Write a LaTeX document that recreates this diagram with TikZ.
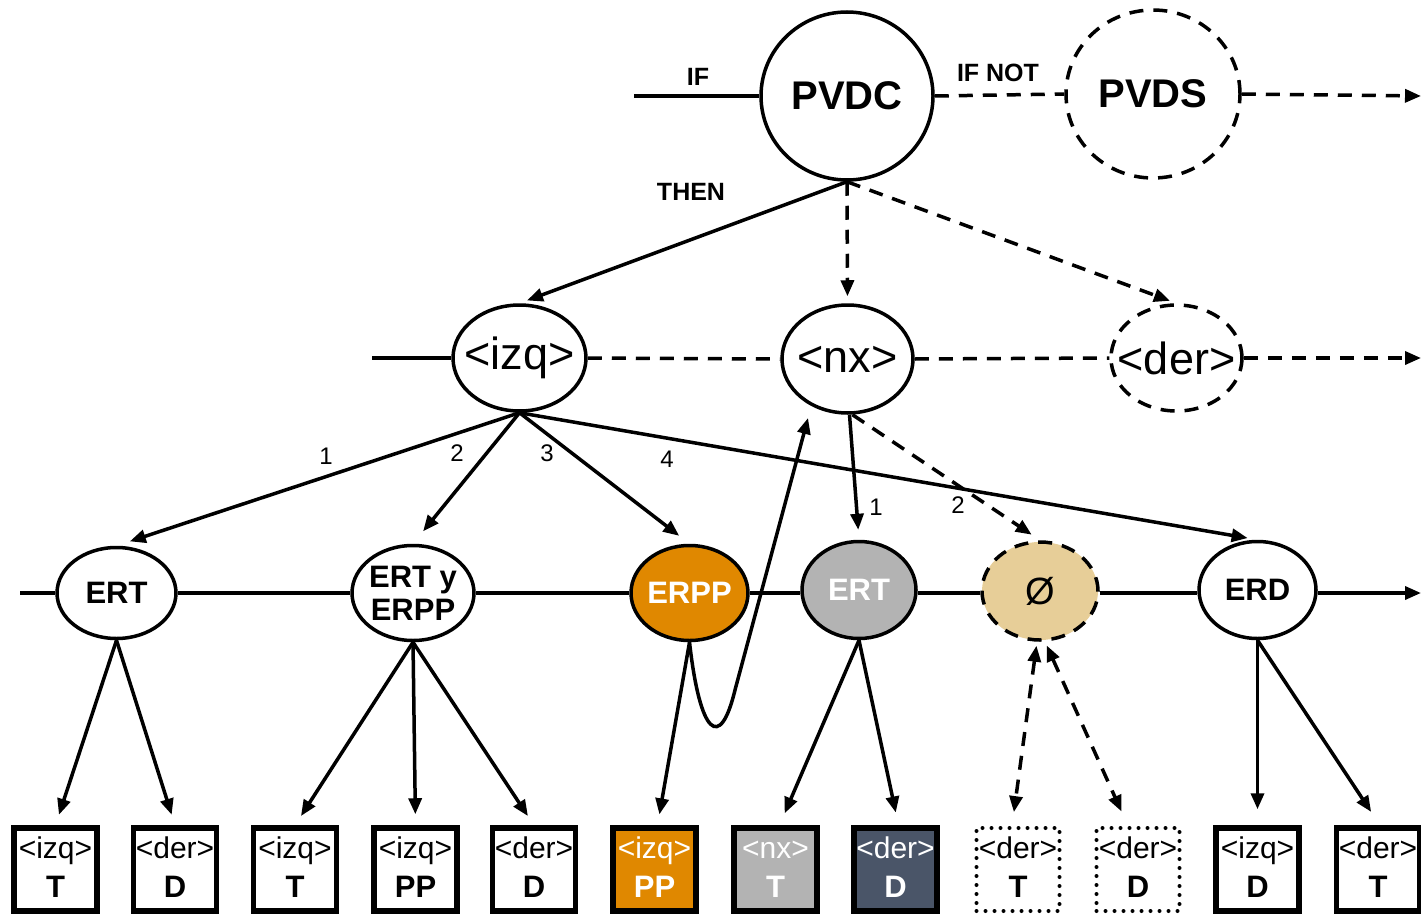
\documentclass[tikz,border=0pt]{standalone}
\usepackage{fontspec}
\setmainfont{Liberation Sans}
\usetikzlibrary{arrows.meta,shapes.geometric,calc}

\definecolor{ambar}{RGB}{224,136,0}
\definecolor{gris}{RGB}{179,179,179}
\definecolor{pizarra}{RGB}{74,85,104}
\definecolor{arena}{RGB}{231,206,152}

\begin{document}
\begin{tikzpicture}[x=1pt,y=-1pt,
  conn/.style={line width=3.5pt},
  arr/.style={conn,-{Triangle[length=16pt,width=13pt]}},
  dbl/.style={conn,{Triangle[length=16pt,width=13pt]}-{Triangle[length=16pt,width=13pt]}},
  dsh/.style={dash pattern=on 14pt off 10pt},
  % the ellipse size is set by minimum width/height only
  ell/.style={ellipse,draw,line width=3.5pt,inner sep=-60pt,fill=white},
  bigtxt/.style={font=\fontsize{40}{40}\selectfont\bfseries},
  midtxt/.style={font=\fontsize{45}{45}\selectfont},
  rowtxt/.style={font=\fontsize{31}{33}\selectfont\bfseries,align=center},
  lab/.style={font=\fontsize{25}{25}\selectfont\bfseries},
  num/.style={font=\fontsize{24}{24}\selectfont},
  tagtxt/.style={font=\fontsize{30}{30}\selectfont,anchor=base,inner sep=0pt},
  lettxt/.style={font=\fontsize{31}{31}\selectfont\bfseries,anchor=base,inner sep=0pt},
  plainbox/.style={draw,line width=5.5pt,fill=white,inner sep=0pt,minimum width=83pt,minimum height=83pt},
  orangebox/.style={plainbox,fill=ambar},
  greybox/.style={plainbox,fill=gris},
  slatebox/.style={plainbox,fill=pizarra},
  dotbox/.style={plainbox,line width=4pt,line cap=round,dash pattern=on 0pt off 9pt}
]
\useasboundingbox (0,0) rectangle (1421,915);

% top level: the rule and its alternative
\node[ell,minimum width=172pt,minimum height=168pt,bigtxt] (pvdc) at (847,96) {PVDC};
\node[ell,dsh,minimum width=174pt,minimum height=168pt,bigtxt] (pvds) at (1153,94) {PVDS};
\coordinate (inA) at (634,96);
\coordinate (outA) at (1421,96);
\draw[conn] (inA) -- (pvdc.west);
\draw[conn,dsh] (pvdc.east) -- (pvds.west);
\draw[arr,dsh] (pvds.east) -- (outA);
\node[lab] (tif) at (698,77) {IF};
\node[lab] (tifnot) at (998,73) {IF NOT};
\node[lab] (tthen) at (691,192) {THEN};

% second level: left, nucleus, right
\node[ell,minimum width=133pt,minimum height=106pt,midtxt] (izq) at (519.5,358) {<izq>};
\node[ell,minimum width=131pt,minimum height=108pt,midtxt] (nx) at (847.5,359) {<nx>};
\node[ell,dsh,minimum width=131pt,minimum height=106pt,midtxt] (der) at (1176.5,358) {<der>};
\coordinate (inB) at (372,358);
\coordinate (outB) at (1421,358);
\draw[conn] (inB) -- (izq.west);
\draw[conn,dsh] (izq.east) -- (nx.west);
\draw[conn,dsh] (nx.east) -- (der.west);
\draw[arr,dsh] (der.east) -- (outB);

\draw[arr,shorten >=8pt] (pvdc.south) -- (izq.north);
\draw[arr,dsh,shorten >=7pt] (pvdc.south) -- (nx.north);
\draw[arr,dsh,shorten >=7pt] (pvdc.south) -- (der.north);

% third level: relations
\node[ell,minimum width=119pt,minimum height=91pt,rowtxt] (ert1) at (116.5,593) {ERT};
\node[ell,minimum width=122pt,minimum height=95pt,rowtxt] (erty) at (413,593) {ERT y\\ERPP};
\node[ell,fill=ambar,text=white,minimum width=117pt,minimum height=95pt,rowtxt] (erpp) at (689.5,593) {ERPP};
\node[ell,fill=gris,text=white,minimum width=114pt,minimum height=97pt,rowtxt] (ertg) at (859,590) {ERT};
\node[ell,dsh,fill=arena,minimum width=116pt,minimum height=98pt,font=\fontsize{38}{38}\selectfont] (nul) at (1040,591) {Ø};
\node[ell,minimum width=117pt,minimum height=97pt,rowtxt] (erd) at (1257.5,590) {ERD};
\coordinate (inC) at (20,593);
\coordinate (outC) at (1421,593);
\draw[conn] (inC) -- (ert1.west);
\draw[conn] (ert1.east) -- (erty.west);
\draw[conn] (erty.east) -- (erpp.west);
\draw[conn] (erpp.east) -- (ertg.west |- erpp.east);
\draw[conn] (ertg.east |- erpp.east) -- (nul.west |- erpp.east);
\draw[conn] (nul.east |- erpp.east) -- (erd.west |- erpp.east);
\draw[arr] (erd.east |- erpp.east) -- (outC);

\draw[arr,shorten >=14pt] (izq.south) -- (ert1.north);
\draw[arr,shorten >=16pt] (izq.south) -- (erty.north);
\draw[arr,shorten >=13pt] (izq.south) -- (erpp.north);
\draw[arr,shorten >=10pt] (izq.south) -- (erd.north);
\draw[arr,shorten >=10pt] ([xshift=2pt]nx.south) -- (ertg.north);
\draw[arr,dsh,shorten >=10pt] ([xshift=5pt]nx.south) -- (nul.north);
\node[num] (n1) at (326,456) {1};
\node[num] (n2) at (457,453) {2};
\node[num] (n3) at (547,453) {3};
\node[num] (n4) at (667,459) {4};
\node[num] (m1) at (876,507) {1};
\node[num] (m2) at (958,505) {2};

% loop from ERPP back up to the nucleus
\coordinate (loopend) at (808,418);
\draw[arr] (erpp.south) .. controls (700,735) and (720,752) .. (735,690) -- (loopend);

% bottom level: word boxes
\foreach \n/\x/\st/\tc/\tg/\lt in {
  b1/55.5/plainbox/black/<izq>/T,
  b2/175/plainbox/black/<der>/D,
  b3/295/plainbox/black/<izq>/T,
  b4/415.5/plainbox/black/<izq>/PP,
  b5/534/plainbox/black/<der>/D,
  b6/654.5/orangebox/white/<izq>/PP,
  b7/775.5/greybox/white/<nx>/T,
  b8/895.5/slatebox/white/<der>/D,
  b9/1018/dotbox/black/<der>/T,
  b10/1138/dotbox/black/<der>/D,
  b11/1257.5/plainbox/black/<izq>/D,
  b12/1378/plainbox/black/<der>/T}{
  \node[\st] (\n) at (\x,869.5) {};
  \node[tagtxt,text=\tc] at ($(\n.center)+(0,-11)$) {\tg};
  \node[lettxt,text=\tc] at ($(\n.center)+(0,28)$) {\lt};
}

\draw[arr,shorten >=11pt] (ert1.south) -- (b1.north);
\draw[arr,shorten >=11pt] (ert1.south) -- (b2.north);
\draw[arr,shorten >=11pt] (erty.south) -- (b3.north);
\draw[arr,shorten >=11pt] (erty.south) -- (b4.north);
\draw[arr,shorten >=11pt] (erty.south) -- (b5.north);
\draw[arr,shorten >=11pt] (erpp.south) -- ([xshift=3pt]b6.north);
\draw[arr,shorten >=13pt] (ertg.south) -- ([xshift=4pt]b7.north);
\draw[arr,shorten >=13pt] (ertg.south) -- ([xshift=3pt]b8.north);
\draw[dbl,dsh,shorten <=4pt,shorten >=14pt] ([xshift=-3pt]nul.south) -- ([xshift=-6pt]b9.north);
\draw[dbl,dsh,shorten <=4pt,shorten >=16pt] ([xshift=5pt]nul.south) -- ([xshift=-10pt]b10.north);
\draw[arr,shorten >=16pt] (erd.south) -- (b11.north);
\draw[arr,shorten >=16pt] (erd.south) -- ([xshift=2pt]b12.north);
\end{tikzpicture}
\end{document}
